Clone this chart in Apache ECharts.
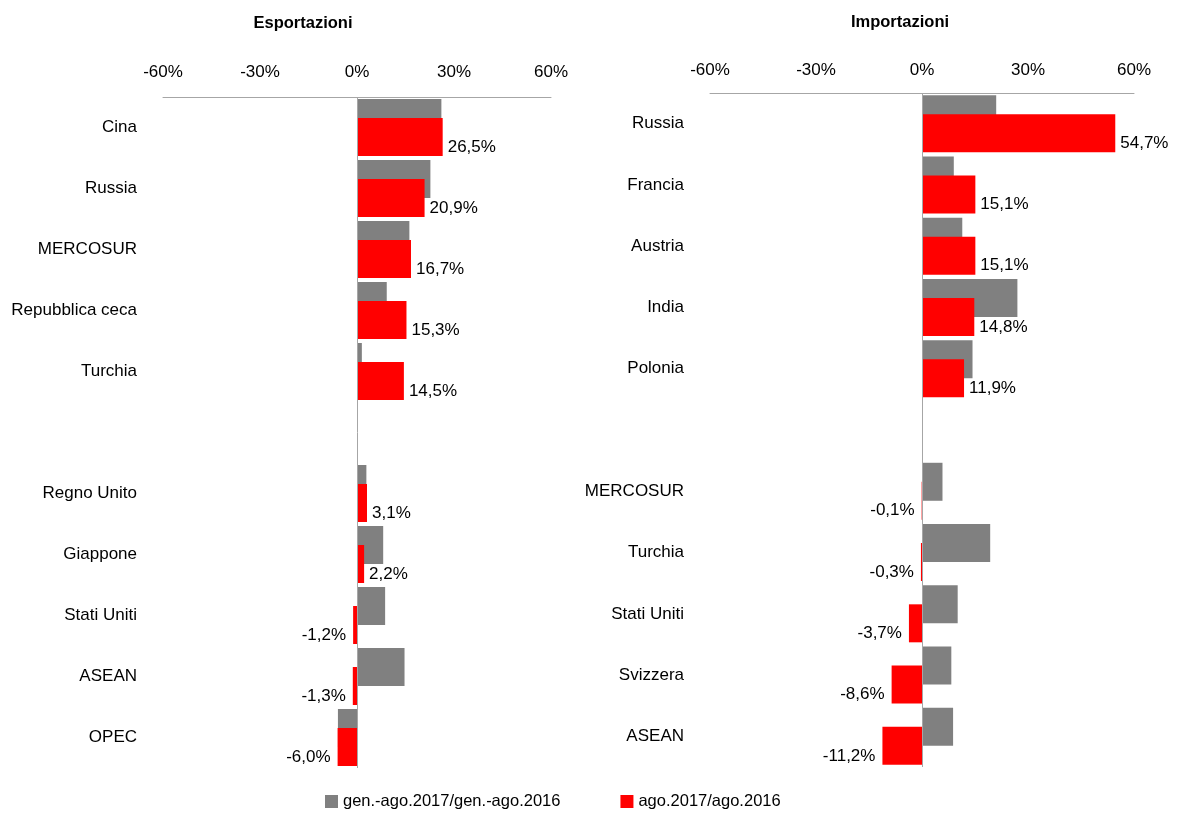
<!DOCTYPE html>
<html>
<head>
<meta charset="utf-8">
<script src="https://cdn.jsdelivr.net/npm/echarts@6/dist/echarts.min.js"></script>
<style>html,body{margin:0;padding:0;background:#fff}#main{width:1184px;height:814px}</style>
</head>
<body>
<div id="main"></div>
<script>
var exportCountries = ['Cina', 'Russia', 'MERCOSUR', 'Repubblica ceca', 'Turchia', '', 'Regno Unito', 'Giappone', 'Stati Uniti', 'ASEAN', 'OPEC'];
var exportYear = [26.1, 22.7, 16.2, 9.2, 1.5, null, 2.9, 8.1, 8.7, 14.7, -5.9];
var exportMonth = [26.5, 20.9, 16.7, 15.3, 14.5, null, 3.1, 2.2, -1.2, -1.3, -6.0];

var importCountries = ['Russia', 'Francia', 'Austria', 'India', 'Polonia', '', 'MERCOSUR', 'Turchia', 'Stati Uniti', 'Svizzera', 'ASEAN'];
var importYear = [21.0, 9.0, 11.4, 27.0, 14.3, null, 5.8, 19.3, 10.1, 8.3, 8.8];
var importMonth = [54.7, 15.1, 15.1, 14.8, 11.9, null, -0.1, -0.3, -3.7, -8.6, -11.2];

var seriesNames = ['gen.-ago.2017/gen.-ago.2016', 'ago.2017/ago.2016'];
var panelTitles = ['Esportazioni', 'Importazioni'];
var axisMin = -60, axisMax = 60, axisStep = 30;

var font = "'Liberation Sans', Arial, sans-serif";
var lineColor = '#a6a6a6';

var myChart = echarts.init(document.getElementById('main'));

function fmt(v) {
    return v.toFixed(1).replace('.', ',') + '%';
}

function redData(arr) {
    return arr.map(function (v) {
        if (v == null) return '-';
        return {
            value: v,
            label: {
                position: v < 0 ? 'left' : 'right',
                offset: v < 0 ? [-2, 10] : [0, 10]
            }
        };
    });
}

function xAxisFor(i, margin) {
    return {
        gridIndex: i,
        type: 'value',
        position: 'top',
        min: axisMin,
        max: axisMax,
        interval: axisStep,
        axisLine: { show: true, lineStyle: { color: lineColor, width: 1 } },
        axisTick: { show: false },
        splitLine: { show: false },
        axisLabel: { formatter: '{value}%', margin: margin, color: '#000', fontSize: 17, fontFamily: font }
    };
}

function yAxisFor(i, cats) {
    return {
        gridIndex: i,
        type: 'category',
        inverse: true,
        data: cats,
        axisLine: { show: false },
        axisTick: { show: false },
        splitLine: { show: false },
        axisLabel: { margin: 26, color: '#000', fontSize: 17, fontFamily: font }
    };
}

function greySeries(i, arr) {
    return {
        name: seriesNames[0],
        type: 'bar',
        xAxisIndex: i,
        yAxisIndex: i,
        data: arr.map(function (v) { return v == null ? '-' : v; }),
        barWidth: 38,
        barGap: '-50%',
        itemStyle: { color: '#808080' },
        markLine: {
            silent: true,
            symbol: ['none', 'none'],
            label: { show: false },
            lineStyle: { color: lineColor, type: 'solid', width: 1 },
            data: [{ xAxis: 0 }]
        }
    };
}

function redSeries(i, arr) {
    return {
        name: seriesNames[1],
        type: 'bar',
        xAxisIndex: i,
        yAxisIndex: i,
        data: redData(arr),
        barWidth: 38,
        barGap: '-50%',
        itemStyle: { color: '#ff0000' },
        label: {
            show: true,
            distance: 5,
            color: '#000',
            fontSize: 17,
            fontFamily: font,
            formatter: function (p) { return fmt(p.value); }
        }
    };
}

var option = {
    animation: false,
    backgroundColor: '#fff',
    title: [{
        text: panelTitles[0],
        left: 303,
        top: 15,
        padding: 0,
        textAlign: 'center',
        textStyle: { fontSize: 16.5, fontWeight: 'bold', color: '#000', fontFamily: font }
    }, {
        text: panelTitles[1],
        left: 900,
        top: 14,
        padding: 0,
        textAlign: 'center',
        textStyle: { fontSize: 16.5, fontWeight: 'bold', color: '#000', fontFamily: font }
    }],
    legend: {
        data: seriesNames,
        left: 325,
        top: 793,
        padding: 0,
        icon: 'rect',
        itemWidth: 13,
        itemHeight: 13,
        itemGap: 60,
        itemTextGap: 3,
        textStyle: { color: '#000', fontSize: 16.5, fontFamily: font }
    },
    grid: [
        { left: 163, width: 388, top: 97, height: 671, containLabel: false, outerBoundsMode: 'none' },
        { left: 710, width: 424, top: 93, height: 674, containLabel: false, outerBoundsMode: 'none' }
    ],
    xAxis: [xAxisFor(0, 16), xAxisFor(1, 14)],
    yAxis: [yAxisFor(0, exportCountries), yAxisFor(1, importCountries)],
    series: [
        greySeries(0, exportYear),
        redSeries(0, exportMonth),
        greySeries(1, importYear),
        redSeries(1, importMonth)
    ]
};

myChart.setOption(option);
</script>
</body>
</html>
